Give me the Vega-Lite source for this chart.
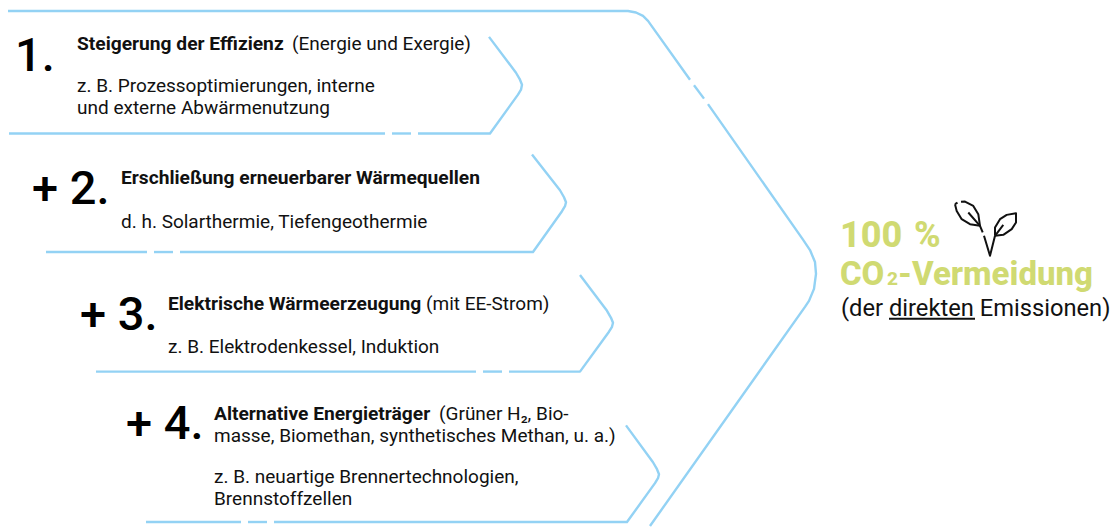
{"$schema":"https://vega.github.io/schema/vega-lite/v6.json","width":1111,"height":528,"padding":0,"autosize":{"type":"fit","contains":"padding"},"background":"white","config":{"view":{"stroke":null}},
"datasets":{"lines":[
{"p":"o1","s":1,"x":8,"y":11,"k":"blue"},{"p":"o1","s":2,"x":628,"y":11,"k":"blue"},{"p":"o1","s":3,"x":636,"y":12.5,"k":"blue"},{"p":"o1","s":4,"x":643,"y":16,"k":"blue"},{"p":"o1","s":5,"x":648,"y":21,"k":"blue"},{"p":"o1","s":6,"x":690,"y":80,"k":"blue"},
{"p":"o2","s":1,"x":694,"y":85.5,"k":"blue"},{"p":"o2","s":2,"x":704,"y":99,"k":"blue"},
{"p":"o3","s":1,"x":708,"y":104.5,"k":"blue"},{"p":"o3","s":2,"x":803,"y":240.5,"k":"blue"},{"p":"o3","s":3,"x":810,"y":251,"k":"blue"},{"p":"o3","s":4,"x":815,"y":263,"k":"blue"},{"p":"o3","s":5,"x":816,"y":275,"k":"blue"},{"p":"o3","s":6,"x":814,"y":290,"k":"blue"},{"p":"o3","s":7,"x":809,"y":302,"k":"blue"},{"p":"o3","s":8,"x":805,"y":308,"k":"blue"},{"p":"o3","s":9,"x":650,"y":528,"k":"blue"},
{"p":"a1","s":1,"x":9,"y":134,"k":"blue"},{"p":"a1","s":2,"x":385,"y":134,"k":"blue"},
{"p":"a2","s":1,"x":392,"y":134,"k":"blue"},{"p":"a2","s":2,"x":411,"y":134,"k":"blue"},
{"p":"a3","s":1,"x":418,"y":134,"k":"blue"},{"p":"a3","s":2,"x":490,"y":134,"k":"blue"},{"p":"a3","s":3,"x":518,"y":95,"k":"blue"},{"p":"a3","s":4,"x":521,"y":90,"k":"blue"},{"p":"a3","s":5,"x":522,"y":85,"k":"blue"},{"p":"a3","s":6,"x":520,"y":80,"k":"blue"},{"p":"a3","s":7,"x":516,"y":73,"k":"blue"},{"p":"a3","s":8,"x":489,"y":37,"k":"blue"},
{"p":"b1","s":1,"x":46,"y":253,"k":"blue"},{"p":"b1","s":2,"x":147,"y":253,"k":"blue"},
{"p":"b2","s":1,"x":154,"y":253,"k":"blue"},{"p":"b2","s":2,"x":173,"y":253,"k":"blue"},
{"p":"b3","s":1,"x":180,"y":253,"k":"blue"},{"p":"b3","s":2,"x":533,"y":253,"k":"blue"},{"p":"b3","s":3,"x":562,"y":212,"k":"blue"},{"p":"b3","s":4,"x":565,"y":207,"k":"blue"},{"p":"b3","s":5,"x":566,"y":203,"k":"blue"},{"p":"b3","s":6,"x":564,"y":198,"k":"blue"},{"p":"b3","s":7,"x":560,"y":191,"k":"blue"},{"p":"b3","s":8,"x":532,"y":155,"k":"blue"},
{"p":"c1","s":1,"x":96,"y":373,"k":"blue"},{"p":"c1","s":2,"x":476,"y":373,"k":"blue"},
{"p":"c2","s":1,"x":483,"y":373,"k":"blue"},{"p":"c2","s":2,"x":502,"y":373,"k":"blue"},
{"p":"c3","s":1,"x":509,"y":373,"k":"blue"},{"p":"c3","s":2,"x":580,"y":373,"k":"blue"},{"p":"c3","s":3,"x":609,"y":333,"k":"blue"},{"p":"c3","s":4,"x":612,"y":328,"k":"blue"},{"p":"c3","s":5,"x":613,"y":324,"k":"blue"},{"p":"c3","s":6,"x":611,"y":319,"k":"blue"},{"p":"c3","s":7,"x":607,"y":312,"k":"blue"},{"p":"c3","s":8,"x":580,"y":276,"k":"blue"},
{"p":"d1","s":1,"x":146,"y":524,"k":"blue"},{"p":"d1","s":2,"x":241,"y":524,"k":"blue"},
{"p":"d2","s":1,"x":248,"y":524,"k":"blue"},{"p":"d2","s":2,"x":267,"y":524,"k":"blue"},
{"p":"d3","s":1,"x":274,"y":524,"k":"blue"},{"p":"d3","s":2,"x":627,"y":524,"k":"blue"},{"p":"d3","s":3,"x":655,"y":485,"k":"blue"},{"p":"d3","s":4,"x":658,"y":480,"k":"blue"},{"p":"d3","s":5,"x":659,"y":476,"k":"blue"},{"p":"d3","s":6,"x":657,"y":471,"k":"blue"},{"p":"d3","s":7,"x":653,"y":464,"k":"blue"},{"p":"d3","s":8,"x":626,"y":427,"k":"blue"},
{"p":"u","s":1,"x":889,"y":320,"k":"black"},{"p":"u","s":2,"x":975,"y":320,"k":"black"},
{"p":"l1","s":1,"x":955,"y":205,"k":"black"},{"p":"l1","s":2,"x":957.5,"y":203.5,"k":"black"},
{"p":"l2","s":1,"x":961,"y":202.5,"k":"black"},{"p":"l2","s":2,"x":965,"y":202.3,"k":"black"},{"p":"l2","s":3,"x":973.3,"y":206.7,"k":"black"},{"p":"l2","s":4,"x":978.3,"y":215,"k":"black"},{"p":"l2","s":5,"x":980,"y":226.7,"k":"black"},{"p":"l2","s":6,"x":970,"y":225,"k":"black"},{"p":"l2","s":7,"x":961.7,"y":220,"k":"black"},{"p":"l2","s":8,"x":956.7,"y":211.7,"k":"black"},{"p":"l2","s":9,"x":955,"y":205,"k":"black"},
{"p":"l3","s":1,"x":968.3,"y":213.3,"k":"black"},{"p":"l3","s":2,"x":980,"y":226.7,"k":"black"},{"p":"l3","s":3,"x":982.7,"y":233.3,"k":"black"},
{"p":"l4","s":1,"x":984,"y":236.7,"k":"black"},{"p":"l4","s":2,"x":990,"y":256.7,"k":"black"},{"p":"l4","s":3,"x":995,"y":236.7,"k":"black"},
{"p":"l5","s":1,"x":995,"y":236.7,"k":"black"},{"p":"l5","s":2,"x":995,"y":228.3,"k":"black"},{"p":"l5","s":3,"x":1000,"y":220,"k":"black"},{"p":"l5","s":4,"x":1006.7,"y":215.7,"k":"black"},{"p":"l5","s":5,"x":1016,"y":214,"k":"black"},{"p":"l5","s":6,"x":1016,"y":223.3,"k":"black"},{"p":"l5","s":7,"x":1011.7,"y":230,"k":"black"},{"p":"l5","s":8,"x":1003.3,"y":235.7,"k":"black"},{"p":"l5","s":9,"x":995,"y":236.7,"k":"black"},
{"p":"l6","s":1,"x":995,"y":236.7,"k":"black"},{"p":"l6","s":2,"x":1003.3,"y":225.7,"k":"black"}
],
"labels":[
{"r":"big","t":"1.","x":15,"y":71},{"r":"big","t":"+ 2.","x":32,"y":205},{"r":"big","t":"+ 3.","x":80,"y":331},{"r":"big","t":"+ 4.","x":126,"y":441},
{"r":"bold","t":"Steigerung der Effizienz","x":77,"y":50},{"r":"reg","t":"(Energie und Exergie)","x":292,"y":50},{"r":"reg","t":"z. B. Prozessoptimierungen, interne","x":77,"y":92},{"r":"reg","t":"und externe Abwärmenutzung","x":77,"y":114},
{"r":"bold","t":"Erschließung erneuerbarer Wärmequellen","x":121,"y":185},{"r":"reg","t":"d. h. Solarthermie, Tiefengeothermie","x":121,"y":229},
{"r":"bold","t":"Elektrische Wärmeerzeugung","x":168,"y":311},{"r":"reg","t":"(mit EE-Strom)","x":426,"y":311},{"r":"reg","t":"z. B. Elektrodenkessel, Induktion","x":168,"y":354},
{"r":"bold","t":"Alternative Energieträger","x":214,"y":422},{"r":"reg","t":"(Grüner H₂, Bio-","x":439,"y":422},{"r":"reg","t":"masse, Biomethan, synthetisches Methan, u. a.)","x":214,"y":444},{"r":"reg","t":"z. B. neuartige Brennertechnologien,","x":214,"y":485},{"r":"reg","t":"Brennstoffzellen","x":214,"y":507},
{"r":"green100","t":"100","x":840,"y":248},{"r":"green100","t":"%","x":914,"y":248},{"r":"green","t":"CO","x":840,"y":286},{"r":"greensub","t":"2","x":887,"y":286},{"r":"green","t":"-Vermeidung","x":898,"y":286},
{"r":"sub","t":"(der direkten Emissionen)","x":841,"y":317}
]},
"encoding":{"x":{"field":"x","type":"quantitative","scale":{"domain":[0,1111]},"axis":null},"y":{"field":"y","type":"quantitative","scale":{"domain":[528,0]},"axis":null}},
"layer":[
{"data":{"name":"lines"},"transform":[{"filter":"datum.k==='blue'"}],"mark":{"type":"line","stroke":"#93d2f4","strokeWidth":2.4,"strokeJoin":"round"},"encoding":{"detail":{"field":"p"},"order":{"field":"s","type":"quantitative"}}},
{"data":{"name":"lines"},"transform":[{"filter":"datum.k==='black'"}],"mark":{"type":"line","stroke":"#111111","strokeWidth":2,"strokeJoin":"round"},"encoding":{"detail":{"field":"p"},"order":{"field":"s","type":"quantitative"}}},
{"data":{"name":"labels"},"transform":[{"filter":"datum.r==='big'"}],"mark":{"type":"text","align":"left","baseline":"alphabetic","font":"Roboto","fontSize":47,"fontWeight":500,"color":"#000"},"encoding":{"text":{"field":"t"}}},
{"data":{"name":"labels"},"transform":[{"filter":"datum.r==='bold'"}],"mark":{"type":"text","align":"left","baseline":"alphabetic","font":"Roboto","fontSize":19.2,"fontWeight":700,"color":"#111"},"encoding":{"text":{"field":"t"}}},
{"data":{"name":"labels"},"transform":[{"filter":"datum.r==='reg'"}],"mark":{"type":"text","align":"left","baseline":"alphabetic","font":"Roboto","fontSize":19,"fontWeight":400,"color":"#111"},"encoding":{"text":{"field":"t"}}},
{"data":{"name":"labels"},"transform":[{"filter":"datum.r==='green'"}],"mark":{"type":"text","align":"left","baseline":"alphabetic","font":"Roboto","fontSize":33,"fontWeight":800,"color":"#d0da72"},"encoding":{"text":{"field":"t"}}},
{"data":{"name":"labels"},"transform":[{"filter":"datum.r==='green100'"}],"mark":{"type":"text","align":"left","baseline":"alphabetic","font":"Roboto","fontSize":36,"fontWeight":800,"color":"#d0da72"},"encoding":{"text":{"field":"t"}}},
{"data":{"name":"labels"},"transform":[{"filter":"datum.r==='greensub'"}],"mark":{"type":"text","align":"left","baseline":"alphabetic","font":"Roboto","fontSize":19,"fontWeight":800,"color":"#d0da72"},"encoding":{"text":{"field":"t"}}},
{"data":{"name":"labels"},"transform":[{"filter":"datum.r==='sub'"}],"mark":{"type":"text","align":"left","baseline":"alphabetic","font":"Roboto","fontSize":23.7,"fontWeight":400,"color":"#111"},"encoding":{"text":{"field":"t"}}}
]}
